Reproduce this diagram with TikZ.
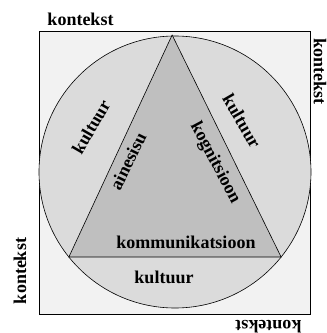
\documentclass[tikz,border=0pt]{standalone}
\usepackage{fontspec}
\setmainfont{Liberation Serif}
\usetikzlibrary{calc}
\definecolor{kontekstgray}{gray}{0.95}
\definecolor{kultuurgray}{gray}{0.86}
\definecolor{kolmnurkgray}{gray}{0.75}
\tikzset{
  silt/.style={font=\bfseries\fontsize{18}{21}\selectfont,inner sep=0pt},
}

\begin{document}
\begin{tikzpicture}[x=1pt,y=1pt]
  \useasboundingbox (0,0) rectangle (327,333);
  % raam, ring ja kolmnurk
  \draw[fill=kontekstgray,line width=0.6pt] (39.5,19) rectangle (310.5,302);
  \coordinate (c) at (175,161);
  \draw[fill=kultuurgray,line width=0.6pt] (c) circle (136);
  \coordinate (tipp) at ($(c)+(91.2:137)$);
  \coordinate (vasak) at ($(c)+(218.7:136)$);
  \coordinate (parem) at ($(c)+(321.3:136)$);
  \draw[fill=kolmnurkgray,line width=0.6pt] (tipp) -- (vasak) -- (parem) -- cycle;
  % kontekst
  \node[silt,anchor=base] (kTop) at (80.5,308) {kontekst};
  \node[silt,rotate=-90] (kRight) at (320,261.5) {kontekst};
  \node[silt,rotate=90] (kLeft) at (20,62) {kontekst};
  \node[silt,rotate=180] (kBottom) at (268.5,6) {kontekst};
  % kultuur
  \node[silt,rotate=60] (kultL) at (91,206) {kultuur};
  \node[silt,rotate=-60] (kultR) at (242,212) {kultuur};
  \node[silt] (kultB) at (164,56) {kultuur};
  % kolmnurga sees
  \node[silt,rotate=64] (aines) at (128,172) {ainesisu};
  \node[silt,rotate=-62] (kogn) at (215,170) {kognitsioon};
  \node[silt] (komm) at (186,91) {kommunikatsioon};
\end{tikzpicture}
\end{document}
